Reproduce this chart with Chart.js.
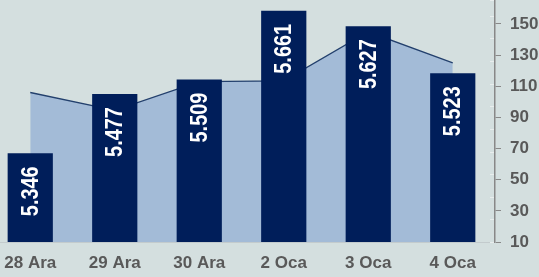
<!DOCTYPE html>
<html>
<head>
<meta charset="utf-8">
<script src="https://cdn.jsdelivr.net/npm/chart.js@4/dist/chart.umd.min.js"></script>
<style>
  html, body { margin: 0; padding: 0; background: #d4dfdf; overflow: hidden; }
  #kutu { width: 539px; height: 277px; overflow: hidden; position: relative; }
  /* ilk kategori sol kenardan tasiyor, tuvali 12px sola kaydir */
  #wrap { position: absolute; left: -12px; top: 0; width: 551px; height: 277px; }
</style>
</head>
<body>
<div id="kutu"><div id="wrap"><canvas id="grafik"></canvas></div></div>
<script>
// veriler
const gunler = ['28 Ara', '29 Ara', '30 Ara', '2 Oca', '3 Oca', '4 Oca'];
const kapanis = [5.346, 5.477, 5.509, 5.661, 5.627, 5.523];
const hacim = [106, 94.5, 113, 113.5, 145, 125];
const sagEksenTikleri = [10, 30, 50, 70, 90, 110, 130, 150];

// bar icindeki dikey etiketler
const barEtiketi = {
    id: 'barEtiketi',
    afterDatasetsDraw(chart) {
        const meta = chart.getDatasetMeta(0);
        const ctx = chart.ctx;
        ctx.save();
        ctx.fillStyle = '#ffffff';
        ctx.font = 'bold 24px Arial, "Liberation Sans", sans-serif';
        ctx.textAlign = 'right';
        ctx.textBaseline = 'middle';
        meta.data.forEach((bar, i) => {
            ctx.save();
            ctx.translate(bar.x + 1, bar.y + 13);
            ctx.rotate(-Math.PI / 2);
            ctx.scale(0.83, 1); // dar yazi
            ctx.fillText(kapanis[i].toFixed(3), 0, 0);
            ctx.restore();
        });
        // sag eksenin solundaki silik cizgiler
        const y1 = chart.scales.y1;
        const x0 = chart.chartArea.right;
        ctx.strokeStyle = '#e9eeee';
        ctx.lineWidth = 1;
        y1.ticks.forEach(t => {
            const py = Math.round(y1.getPixelForValue(t.value)) + 0.5;
            ctx.beginPath();
            ctx.moveTo(x0 - 5, py);
            ctx.lineTo(x0 - 1, py);
            ctx.stroke();
        });
        ctx.restore();
    }
};

const yazi = { family: 'Arial, "Liberation Sans", sans-serif', size: 17, weight: 'bold' };

const conf = {
    data: {
        labels: gunler,
        datasets: [{
            type: 'bar',
            data: kapanis,
            yAxisID: 'y1',
            backgroundColor: '#001e5a',
            borderWidth: 0,
            barPercentage: 0.535,
            categoryPercentage: 1,
            order: 1
        }, {
            type: 'line',
            data: hacim,
            yAxisID: 'y',
            borderColor: '#23406d',
            borderWidth: 1.3,
            backgroundColor: '#a3bbd7',
            fill: 'start',
            pointRadius: 0,
            tension: 0,
            order: 2
        }]
    },
    options: {
        responsive: true,
        maintainAspectRatio: false,
        animation: false,
        layout: { padding: 0 },
        plugins: { legend: { display: false }, tooltip: { enabled: false } },
        scales: {
            x: {
                offset: true,
                grid: { display: false, drawTicks: false, tickLength: 0 },
                border: { display: true, color: '#c3cbcd', width: 1 },
                ticks: { color: '#595959', padding: 11, font: yazi },
                afterFit: axis => { axis.height = 35; }
            },
            y1: {
                display: false,
                min: 5.15,
                max: 5.685,
                ticks: { stepSize: 0.05 }
            },
            y: {
                position: 'right',
                min: 10,
                max: 165.4,
                afterBuildTicks: axis => {
                    axis.ticks = sagEksenTikleri.map(v => ({ value: v }));
                },
                afterFit: axis => {
                    axis.width = 44;
                    axis.paddingTop = 0;
                    axis.paddingBottom = 0;
                },
                grid: { drawOnChartArea: false, color: '#888888', tickLength: 6 },
                border: { display: true, color: '#888888', width: 1.5 },
                ticks: { color: '#595959', padding: 9, font: yazi }
            }
        }
    },
    plugins: [barEtiketi]
};

const grafik = new Chart(document.getElementById('grafik'), conf);
</script>
</body>
</html>
